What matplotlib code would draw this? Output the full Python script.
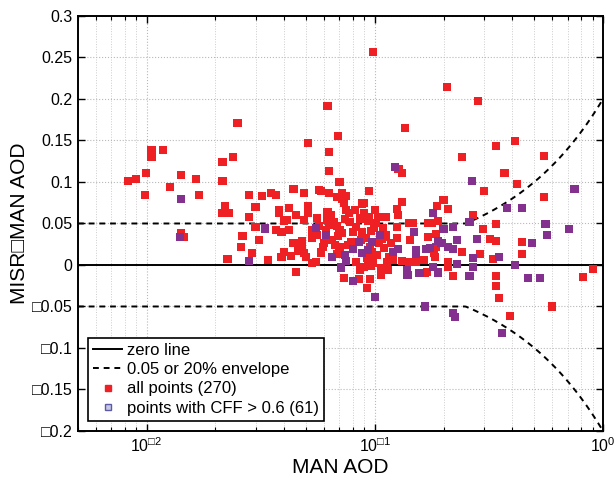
import numpy as np
import matplotlib
matplotlib.use("Agg")
import matplotlib.pyplot as plt
from matplotlib.lines import Line2D
from matplotlib.ticker import FixedLocator, FuncFormatter, LogLocator

plt.rcParams['font.family'] = ['Liberation Sans', 'DejaVu Sans']
plt.rcParams['mathtext.fontset'] = 'custom'
plt.rcParams['mathtext.rm'] = 'Liberation Sans'
plt.rcParams['mathtext.fallback'] = 'stixsans'

# ---- points (MAN AOD, MISR - MAN AOD) ----
# all points that are not CFF > 0.6 (red only)
x_red = [0.0083, 0.0090, 0.0099, 0.0098, 0.0105, 0.0105, 0.0118, 0.0127, 0.0142, 0.0141, 0.0145, 0.0165, 0.0169,
         0.0215, 0.0215, 0.022, 0.0213, 0.023, 0.025, 0.024, 0.028, 0.030, 0.028, 0.030, 0.0263, 0.032, 0.035,
         0.037, 0.044, 0.049, 0.051, 0.038, 0.038, 0.042, 0.045, 0.041, 0.040, 0.037, 0.039, 0.042, 0.049, 0.051,
         0.051, 0.056, 0.044, 0.048, 0.053, 0.057,
         0.026, 0.031, 0.029, 0.0226, 0.034, 0.048, 0.040, 0.039, 0.043, 0.046, 0.049, 0.050, 0.053, 0.045, 0.056,
         0.098, 0.207, 0.282, 0.062, 0.135, 0.069, 0.063, 0.063, 0.070, 0.34, 0.41, 0.55, 0.24, 0.37, 0.42, 0.30,
         0.55, 0.127, 0.132,
         0.058, 0.063, 0.072, 0.094, 0.088, 0.100, 0.112, 0.125, 0.132, 0.200, 0.209, 0.187, 0.27, 0.297, 0.34,
         0.32, 0.34, 0.44, 0.19, 0.147,
         0.068, 0.072, 0.073, 0.075, 0.075, 0.077, 0.088, 0.090, 0.090, 0.093, 0.103, 0.105, 0.126, 0.125, 0.141,
         0.171, 0.178,
         0.053, 0.062, 0.063, 0.061, 0.068, 0.070, 0.072, 0.080, 0.088, 0.069, 0.059, 0.060, 0.067, 0.070, 0.076,
         0.095, 0.108, 0.112, 0.107, 0.125, 0.142, 0.12, 0.131, 0.141, 0.055,
         0.092, 0.095, 0.098, 0.093, 0.096, 0.090, 0.107, 0.114, 0.106, 0.073, 0.085, 0.095, 0.092, 0.166, 0.17,
         0.152, 0.171, 0.164,
         0.186, 0.182, 0.184, 0.24, 0.29, 0.33, 0.44, 0.21, 0.21, 0.22, 0.34, 0.34, 0.35, 0.82, 0.90, 0.60, 0.39,
         0.185,
         0.064, 0.066, 0.078, 0.083, 0.086, 0.091, 0.099, 0.102, 0.110, 0.116, 0.058, 0.083, 0.086, 0.104, 0.062,
         0.082, 0.096,
         0.057, 0.065, 0.074, 0.079, 0.087, 0.094, 0.101, 0.109, 0.118, 0.097, 0.068, 0.113]
y_red = [0.101, 0.104, 0.111, 0.084, 0.139, 0.130, 0.139, 0.094, 0.108, 0.039, 0.034, 0.104, 0.084,
         0.124, 0.101, 0.071, 0.063, 0.063, 0.171, 0.130, 0.084, 0.070, 0.058, 0.046, 0.035, 0.083, 0.087,
         0.084, 0.092, 0.087, 0.147, 0.066, 0.063, 0.069, 0.060, 0.054, 0.053, 0.042, 0.040, 0.042, 0.054, 0.071,
         0.063, 0.057, 0.027, 0.029, 0.033, 0.090,
         0.022, 0.030, 0.014, 0.007, 0.006, 0.022, 0.016, 0.010, 0.011, 0.017, 0.014, 0.010, 0.002, -0.008, 0.036,
         0.257, 0.214, 0.198, 0.192, 0.165, 0.155, 0.136, 0.113, 0.100, 0.143, 0.149, 0.131, 0.130, 0.111, 0.098,
         0.089, 0.082, 0.116, 0.111,
         0.089, 0.087, 0.087, 0.089, 0.073, 0.066, 0.058, 0.067, 0.076, 0.078, 0.067, 0.071, 0.060, 0.043, 0.049,
         0.031, 0.029, 0.028, 0.053, 0.051,
         0.082, 0.080, 0.075, 0.083, 0.066, 0.063, 0.075, 0.075, 0.063, 0.053, 0.058, 0.058, 0.060, 0.046, 0.051,
         0.051, 0.051,
         0.042, 0.054, 0.048, 0.042, 0.047, 0.042, 0.039, 0.040, 0.040, 0.035, 0.022, 0.027, 0.024, 0.022, 0.024,
         0.022, 0.034, 0.036, 0.031, 0.033, 0.030, 0.006, 0.005, 0.004, 0.004,
         0.008, 0.006, 0.002, 0.002, -0.001, -0.002, -0.004, -0.006, -0.012, -0.016, -0.017, -0.017, -0.028,
         -0.010, -0.008, 0.004, 0.034, 0.006,
         0.022, 0.014, 0.010, 0.016, 0.013, 0.007, 0.013, 0.004, -0.002, -0.013, -0.013, -0.025, -0.040, -0.015,
         -0.005, -0.050, -0.061, 0.037,
         0.060, 0.052, 0.052, 0.046, 0.056, 0.033, 0.045, 0.012, 0.020, 0.010, 0.015, 0.004, -0.006, 0.027, 0.064,
         0.066, 0.041,
         0.047, 0.030, 0.055, 0.028, 0.030, 0.058, 0.051, 0.045, 0.026, 0.015, 0.013, 0.003]

# points with CFF > 0.6 (drawn purple on top)
x_cff = [0.0142, 0.0140, 0.028, 0.055, 0.123, 0.75, 0.266, 0.18, 0.38, 0.44, 0.56, 0.57, 0.71, 0.49, 0.20,
         0.22, 0.26, 0.196, 0.23, 0.28, 0.061, 0.080, 0.085, 0.097, 0.093, 0.088, 0.12, 0.126, 0.152, 0.152,
         0.167, 0.065, 0.074, 0.075, 0.071, 0.080, 0.10, 0.138, 0.139, 0.157, 0.18, 0.166, 0.19, 0.175, 0.21,
         0.22, 0.27, 0.35, 0.23, 0.27, 0.19, 0.26, 0.41, 0.47, 0.53, 0.22, 0.225, 0.36, 0.105, 0.033, 0.148]
y_cff = [0.079, 0.034, 0.005, 0.045, 0.118, 0.092, 0.101, 0.063, 0.069, 0.069, 0.049, 0.036, 0.043, 0.027, 0.043,
         0.046, 0.052, 0.027, 0.030, 0.031, 0.036, 0.019, 0.028, 0.028, 0.018, 0.014, 0.016, 0.019, 0.018, 0.013,
         0.019, 0.010, 0.012, 0.005, -0.003, -0.019, -0.039, -0.006, -0.012, -0.010, -0.002, -0.050, 0.029, 0.020,
         0.022, 0.019, 0.008, 0.010, 0.001, -0.002, -0.009, -0.013, 0.000, -0.016, -0.016, -0.058, -0.063, -0.082,
         0.036, 0.044, 0.040]

n_all = len(x_red) + len(x_cff)
n_cff = len(x_cff)

RED = '#ee2024'
PURPLE = '#84308e'
MINUS = '\u25a1'

fig = plt.figure(figsize=(6.16, 4.83), dpi=100)
ax = fig.add_axes([0.1266, 0.1077, 0.8523, 0.8592])

# envelope: max(0.05, 20%)
xe = np.logspace(np.log10(0.005), 0, 400)
env = np.maximum(0.05, 0.2 * xe)

ax.grid(True, which='major', color='#b8b8b8', linestyle=':', linewidth=0.8)
ax.grid(True, which='minor', axis='x', color='#cccccc', linestyle=':', linewidth=0.7)
ax.set_axisbelow(True)

ax.axhline(0, color='black', lw=1.4, zorder=2)
ax.plot(xe, env, color='black', ls=(0, (3, 2.5)), lw=1.4, zorder=2)
ax.plot(xe, -env, color='black', ls=(0, (3, 2.5)), lw=1.4, zorder=2)

x_all = list(x_red) + list(x_cff)
y_all = list(y_red) + list(y_cff)
ax.scatter(x_all, y_all, marker='s', s=34, c=RED, edgecolors='none', zorder=3)
ax.scatter(x_cff, y_cff, marker='s', s=34, c=PURPLE, edgecolors='none', zorder=4)

ax.set_xscale('log')
ax.set_xlim(0.005, 1)
ax.set_ylim(-0.2, 0.3)

yt = [-0.2, -0.15, -0.1, -0.05, 0, 0.05, 0.1, 0.15, 0.2, 0.25, 0.3]
ax.yaxis.set_major_locator(FixedLocator(yt))
ax.yaxis.set_major_formatter(FuncFormatter(
    lambda v, p: ('0' if abs(v) < 1e-9 else (MINUS if v < 0 else '') + ('%g' % abs(v)))))
ax.xaxis.set_major_locator(LogLocator(base=10, numticks=10))
ax.xaxis.set_minor_locator(LogLocator(base=10, subs=np.arange(2, 10), numticks=10))
ax.xaxis.set_major_formatter(FuncFormatter(
    lambda v, p: r'$10^{%s}$' % ((MINUS if v < 1 else '') + str(abs(int(round(np.log10(v))))))))

ax.tick_params(which='both', direction='in', top=True, right=True, labelsize=11.5, pad=4)
ax.tick_params(which='major', length=5, width=1)
ax.tick_params(which='minor', length=3, width=0.8)
for sp in ax.spines.values():
    sp.set_linewidth(1.4)

ax.set_xlabel('MAN AOD', fontsize=15, labelpad=2)
ax.set_ylabel('MISR' + MINUS + 'MAN AOD', fontsize=15, labelpad=2)

handles = [
    Line2D([], [], color='black', lw=1.4),
    Line2D([], [], color='black', lw=1.4, ls=(0, (3, 2.5))),
    Line2D([], [], color=RED, marker='s', ls='none', markersize=5),
    Line2D([], [], marker='s', ls='none', markersize=4, markerfacecolor='#c8c8e6', markeredgecolor='#5a5aa8'),
]
labels = ['zero line', '0.05 or 20% envelope', 'all points (%d)' % n_all, 'points with CFF > 0.6 (%d)' % n_cff]
leg = ax.legend(handles, labels, loc='lower left', bbox_to_anchor=(0.02, 0.025), fontsize=12,
                frameon=True, fancybox=False, edgecolor='black', framealpha=1,
                handlelength=1.7, handletextpad=0.3, labelspacing=0.25, borderpad=0.3, borderaxespad=0)
leg.get_frame().set_linewidth(1.2)

fig.savefig('out.png', dpi=100)
